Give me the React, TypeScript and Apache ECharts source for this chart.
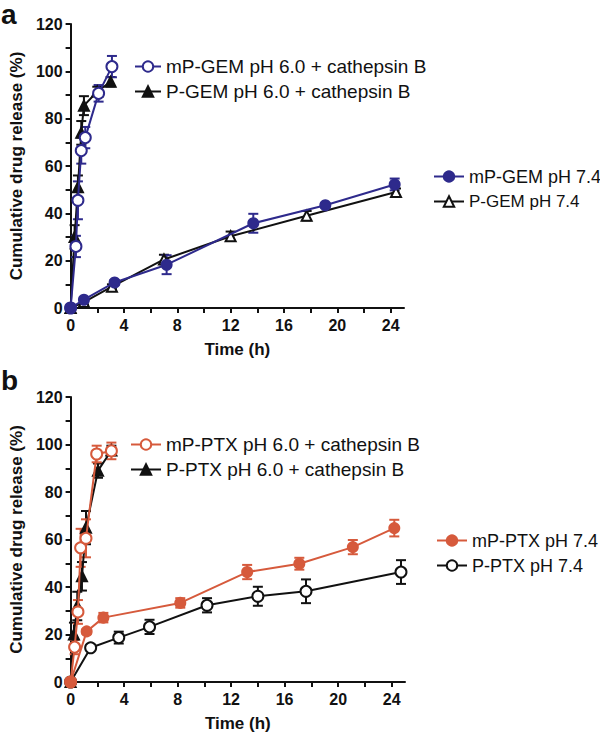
import React, { useEffect, useRef } from "react";
import * as echarts from "echarts";

// ---------- Panel a: GEM ----------
const mpGem60T = [0, 0.4, 0.55, 0.8, 1.1, 2.1, 3.1];
const mpGem60Y = [0, 26, 45.5, 66.5, 72, 90.7, 102];
const mpGem60E = [0, 4.5, 8, 5.5, 4.5, 3.5, 4.5];

const pGem60T = [0, 0.3, 0.55, 0.8, 1.0, 2.0, 3.0];
const pGem60Y = [0, 30, 51, 74, 85.5, 91.5, 95.6];
const pGem60E = [0, 5, 5, 5, 4, 2, 2];

const mpGem74T = [0, 1, 3.3, 7.2, 13.7, 19.1, 24.3];
const mpGem74Y = [0, 3.5, 10.8, 18.3, 35.8, 43.4, 52.2];
const mpGem74E = [0, 1, 1, 4, 4, 1, 2.5];

const pGem74T = [0, 1, 3.1, 7, 12, 17.7, 24.4];
const pGem74Y = [0, 2.5, 9, 20.5, 30.3, 39, 49];
const pGem74E = [0, 1, 1, 2, 2, 2, 1.5];

// ---------- Panel b: PTX ----------
const mpPtx60T = [0, 0.3, 0.55, 0.75, 1.15, 1.95, 3.05];
const mpPtx60Y = [0, 14.7, 29.5, 56.5, 60.5, 96, 97.3];
const mpPtx60E = [0, 3, 5, 8, 8, 3.5, 3.5];

const pPtx60T = [0, 0.25, 0.5, 0.85, 1.15, 2.05, 3.05];
const pPtx60Y = [0, 20, 32, 44.5, 65, 89, 97.5];
const pPtx60E = [0, 5, 6, 6, 7, 3, 2];

const mpPtx74T = [0, 1.2, 2.45, 8.2, 13.2, 17.1, 21.1, 24.2];
const mpPtx74Y = [0, 21.3, 27.1, 33.3, 46.3, 49.8, 56.8, 64.8];
const mpPtx74E = [0, 1, 2, 2, 3, 2.5, 3, 3.5];

const pPtx74T = [0, 1.5, 3.6, 5.9, 10.2, 14.0, 17.6, 24.7];
const pPtx74Y = [0, 14.4, 18.7, 23.2, 32.3, 36.1, 38.2, 46.3];
const pPtx74E = [0, 1, 2.5, 3, 3, 4, 5, 5];

// ---------- Axes ----------
const xTickValues = [0, 2, 4, 6, 8, 10, 12, 14, 16, 18, 20, 22, 24];
const xLabelValues = [0, 4, 8, 12, 16, 20, 24];
const yTickValues = [0, 10, 20, 30, 40, 50, 60, 70, 80, 90, 100, 110, 120];
const yLabelValues = [0, 20, 40, 60, 80, 100, 120];

const BLUE = "#2e2a8c";
const ORANGE = "#d65a3c";
const BLACK = "#111111";
const FONT = "'Liberation Sans', Arial, Helvetica, sans-serif";

function zip(t: number[], y: number[]) {
  return t.map((v, i) => [v, y[i]]);
}
function errData(t: number[], y: number[], e: number[]) {
  const out: number[][] = [];
  t.forEach((v, i) => {
    if (e[i] > 0) out.push([v, y[i] - e[i], y[i] + e[i]]);
  });
  return out;
}

function lineSeries(name: string, t: number[], y: number[], color: string, symbol: string, size: number, gi: number, z: number) {
  return {
    type: "line",
    name,
    xAxisIndex: gi,
    yAxisIndex: gi,
    data: zip(t, y),
    symbol,
    symbolSize: size,
    showAllSymbol: true,
    lineStyle: { color, width: 2 },
    itemStyle: { color, borderColor: color, borderWidth: 2 },
    z,
  };
}

function errSeries(t: number[], y: number[], e: number[], color: string, gi: number, z: number) {
  return {
    type: "custom",
    xAxisIndex: gi,
    yAxisIndex: gi,
    data: errData(t, y, e),
    encode: { x: 0, y: [1, 2] },
    z,
    silent: true,
    renderItem: (params: any, api: any) => {
      const x = api.value(0);
      const top = api.coord([x, api.value(2)]);
      const bot = api.coord([x, api.value(1)]);
      const w = 5;
      const st = { stroke: color, lineWidth: 2 };
      return {
        type: "group",
        children: [
          { type: "line", shape: { x1: top[0], y1: top[1], x2: bot[0], y2: bot[1] }, style: st },
          { type: "line", shape: { x1: top[0] - w, y1: top[1], x2: top[0] + w, y2: top[1] }, style: st },
          { type: "line", shape: { x1: bot[0] - w, y1: bot[1], x2: bot[0] + w, y2: bot[1] }, style: st },
        ],
      };
    },
  };
}

function xAxis(gi: number) {
  return {
    type: "value",
    gridIndex: gi,
    min: 0,
    max: 25,
    name: "Time (h)",
    nameLocation: "middle",
    nameGap: 33,
    nameTextStyle: { fontSize: 17, fontWeight: "bold", color: BLACK, fontFamily: FONT },
    axisLine: { lineStyle: { color: BLACK, width: 2 } },
    axisTick: { show: true, length: 5, lineStyle: { color: BLACK, width: 2 }, customValues: xTickValues },
    axisLabel: { fontSize: 16, fontWeight: "bold", color: BLACK, fontFamily: FONT, margin: 9, customValues: xLabelValues },
    splitLine: { show: false },
  };
}

function yAxis(gi: number) {
  return {
    type: "value",
    gridIndex: gi,
    min: 0,
    max: 120,
    interval: 20,
    name: "Cumulative drug release (%)",
    nameLocation: "middle",
    nameGap: 45,
    nameTextStyle: { fontSize: 17, fontWeight: "bold", color: BLACK, fontFamily: FONT },
    axisLine: { show: true, lineStyle: { color: BLACK, width: 2 } },
    axisTick: { show: true, length: 5, lineStyle: { color: BLACK, width: 2 }, customValues: yTickValues },
    axisLabel: { fontSize: 16, fontWeight: "bold", color: BLACK, fontFamily: FONT, margin: 8, customValues: yLabelValues },
    splitLine: { show: false },
  };
}

function legend(names: any[], left: number, top: number, itemWidth: number, fontSize: number) {
  return {
    data: names,
    left,
    top,
    orient: "vertical",
    itemWidth,
    itemHeight: 13,
    itemGap: 6,
    selectedMode: false,
    textStyle: { fontSize, lineHeight: 19, color: BLACK, fontFamily: FONT },
  };
}

export default function App() {
  const ref = useRef<HTMLDivElement>(null);
  useEffect(() => {
    if (!ref.current) return;
    const chart = echarts.init(ref.current, null, { renderer: "svg" });
    const N = {
      a1: "mP-GEM pH 6.0 + cathepsin B",
      a2: "P-GEM pH 6.0 + cathepsin B",
      a3: "mP-GEM pH 7.4",
      a4: "P-GEM pH 7.4",
      b1: "mP-PTX pH 6.0 + cathepsin B",
      b2: "P-PTX pH 6.0 + cathepsin B",
      b3: "mP-PTX pH 7.4",
      b4: "P-PTX pH 7.4",
    };
    chart.setOption({
      animation: false,
      backgroundColor: "#ffffff",
      grid: [
        { left: 62, top: 24, width: 342, height: 284 },
        { left: 63, top: 397, width: 342, height: 285 },
      ],
      xAxis: [xAxis(0), xAxis(1)],
      yAxis: [yAxis(0), yAxis(1)],
      legend: [
        legend([N.a1, N.a2], 129, 52, 26, 19),
        legend([N.a3, { name: N.a4, textStyle: { fontSize: 17 } }], 428, 162, 30, 18),
        legend([N.b1, N.b2], 125, 430, 30, 19),
        legend([N.b3, N.b4], 431, 526, 30, 18),
      ],
      graphic: [
        { type: "text", left: 1, top: 0, style: { text: "a", fontSize: 28, fontWeight: "bold", fill: BLACK, fontFamily: FONT } },
        { type: "text", left: 1, top: 366, style: { text: "b", fontSize: 28, fontWeight: "bold", fill: BLACK, fontFamily: FONT } },
      ],
      series: [
        errSeries(pGem74T, pGem74Y, pGem74E, BLACK, 0, 2),
        errSeries(mpGem74T, mpGem74Y, mpGem74E, BLUE, 0, 3),
        errSeries(pGem60T, pGem60Y, pGem60E, BLACK, 0, 2),
        errSeries(mpGem60T, mpGem60Y, mpGem60E, BLUE, 0, 3),
        lineSeries(N.a2, pGem60T, pGem60Y, BLACK, "triangle", 10, 0, 4),
        lineSeries(N.a4, pGem74T, pGem74Y, BLACK, "emptyTriangle", 10, 0, 4),
        lineSeries(N.a1, mpGem60T, mpGem60Y, BLUE, "emptyCircle", 11, 0, 5),
        lineSeries(N.a3, mpGem74T, mpGem74Y, BLUE, "circle", 10, 0, 5),

        errSeries(pPtx74T, pPtx74Y, pPtx74E, BLACK, 1, 2),
        errSeries(mpPtx74T, mpPtx74Y, mpPtx74E, ORANGE, 1, 3),
        errSeries(pPtx60T, pPtx60Y, pPtx60E, BLACK, 1, 2),
        errSeries(mpPtx60T, mpPtx60Y, mpPtx60E, ORANGE, 1, 3),
        lineSeries(N.b2, pPtx60T, pPtx60Y, BLACK, "triangle", 10, 1, 4),
        lineSeries(N.b4, pPtx74T, pPtx74Y, BLACK, "emptyCircle", 11, 1, 4),
        lineSeries(N.b1, mpPtx60T, mpPtx60Y, ORANGE, "emptyCircle", 11, 1, 5),
        lineSeries(N.b3, mpPtx74T, mpPtx74Y, ORANGE, "circle", 10, 1, 5),
      ],
    });
    return () => chart.dispose();
  }, []);
  return (
    <div
      ref={ref}
      style={{ position: "fixed", left: 0, top: 0, width: 600, height: 734, background: "#fff" }}
    />
  );
}
